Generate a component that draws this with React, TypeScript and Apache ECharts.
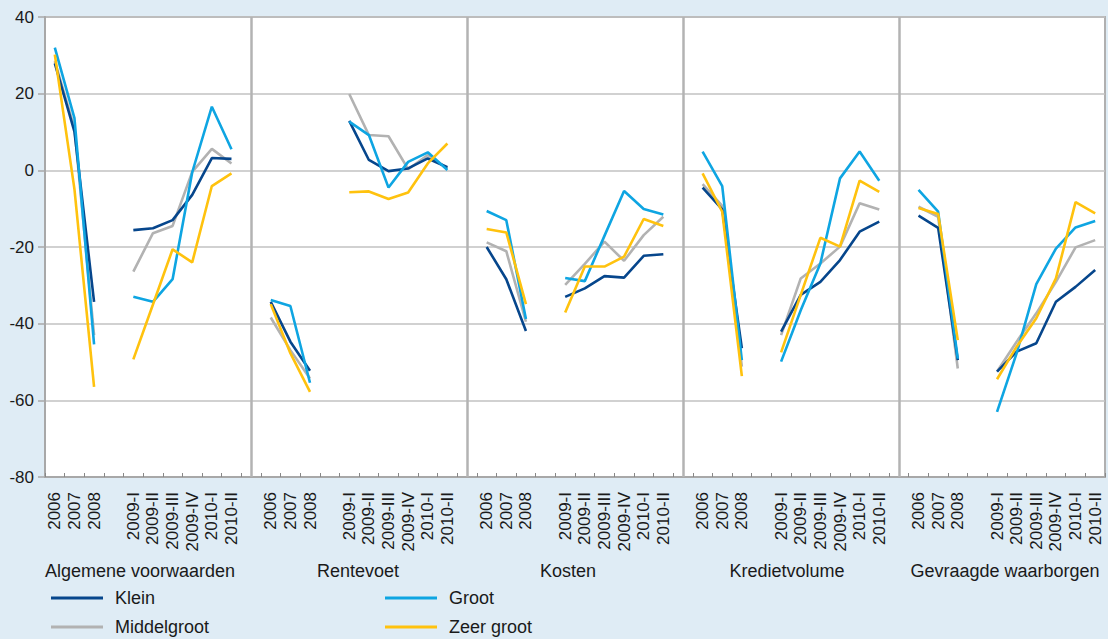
import React, { useEffect, useRef } from "react";
import * as echarts from "echarts";

const panels = ["Algemene voorwaarden", "Rentevoet", "Kosten", "Kredietvolume", "Gevraagde waarborgen"];
const periods = ["2006", "2007", "2008", "", "2009-I", "2009-II", "2009-III", "2009-IV", "2010-I", "2010-II"];
const yTicks = [-80, -60, -40, -20, 0, 20, 40];

// values per panel, aligned with periods (null = gap slot)
const klein = [
  [27.9, 10.1, -34.3, null, -15.6, -15.1, -13.0, -6.4, 3.2, 3.0],
  [-34.3, -44.7, -52.3, null, 12.9, 2.7, -0.2, 0.5, 3.1, 0.8],
  [-20.0, -28.4, -41.9, null, -33.0, -30.8, -27.6, -28.0, -22.3, -21.9],
  [-4.5, -10.2, -46.4, null, -42.1, -32.5, -29.1, -23.4, -16.0, -13.4],
  [-11.8, -15.0, -49.5, null, -52.5, -47.3, -45.1, -34.3, -30.4, -26.0],
];
const middelgroot = [
  [28.5, 11.0, -43.0, null, -26.4, -16.4, -14.5, -0.4, 5.6, 1.8],
  [-38.4, -46.9, -54.3, null, 19.9, 9.2, 8.9, 0.3, 4.0, 0.5],
  [-18.8, -21.1, -39.5, null, -29.9, -24.4, -18.6, -23.6, -16.9, -12.1],
  [-3.6, -9.3, -51.2, null, -43.0, -28.2, -24.3, -19.9, -8.6, -10.2],
  [-9.5, -12.1, -51.7, null, -52.5, -44.7, -37.3, -29.1, -20.1, -18.2],
];
const groot = [
  [32.0, 13.6, -45.4, null, -33.0, -34.3, -28.4, -0.5, 16.6, 5.5],
  [-33.8, -35.4, -55.4, null, 12.7, 9.2, -4.5, 2.2, 4.7, 0.1],
  [-10.6, -13.0, -38.8, null, -28.1, -28.9, -17.1, -5.4, -10.1, -11.5],
  [4.9, -4.1, -49.5, null, -49.9, -36.5, -24.3, -2.1, 4.9, -2.7],
  [-5.1, -10.8, -49.1, null, -63.0, -47.7, -29.7, -20.4, -14.9, -13.2],
];
const zeerGroot = [
  [30.2, -4.9, -56.5, null, -49.3, -35.0, -20.6, -24.0, -4.1, -0.8],
  [-34.9, -47.7, -57.8, null, -5.7, -5.5, -7.5, -5.8, 1.8, 7.0],
  [-15.3, -16.2, -34.9, null, -37.1, -25.1, -25.1, -22.5, -12.7, -14.5],
  [-0.8, -10.8, -53.7, null, -47.5, -32.5, -17.6, -19.9, -2.7, -5.6],
  [-9.8, -11.4, -44.3, null, -54.5, -46.0, -38.6, -28.2, -8.3, -11.2],
];

const seriesDefs = [
  { name: "Middelgroot", values: middelgroot, color: "#b2b2b2" },
  { name: "Klein", values: klein, color: "#06468c" },
  { name: "Groot", values: groot, color: "#0ea5e2" },
  { name: "Zeer groot", values: zeerGroot, color: "#ffc20e" },
];

// build the flat category axis: each panel's periods, then a separator slot
const categories: string[] = [];
const separators: string[] = [];
panels.forEach((_, k) => {
  periods.forEach((p, i) => categories.push(`${k}|${i}|${p}`));
  if (k < panels.length - 1) {
    const s = `sep${k}|x|`;
    categories.push(s);
    separators.push(s);
  }
});

function flatten(v: (number | null)[][]) {
  const out: (number | null)[] = [];
  v.forEach((arr, k) => {
    arr.forEach((x) => out.push(x));
    if (k < v.length - 1) out.push(null);
  });
  return out;
}

const titleX = [140, 358, 568, 787, 1005];
const FONT = "'Liberation Sans', Arial, sans-serif";

export default function App() {
  const ref = useRef<HTMLDivElement>(null);
  useEffect(() => {
    if (!ref.current) return;
    const chart = echarts.init(ref.current, undefined, { renderer: "svg" });
    const series: any[] = seriesDefs.map((s, idx) => ({
      name: s.name,
      type: "line",
      data: flatten(s.values),
      color: s.color,
      symbol: "none",
      showSymbol: false,
      connectNulls: false,
      lineStyle: { width: 2.6, color: s.color },
      z: 3 + idx,
      ...(idx === 0
        ? {
            markLine: {
              silent: true,
              symbol: "none",
              label: { show: false },
              lineStyle: { color: "#b3b3b3", width: 2.5, type: "solid" },
              data: separators.map((s2) => ({ xAxis: s2 })),
              z: 1,
            },
          }
        : {}),
    }));
    const legendBase = {
      orient: "vertical",
      top: 589,
      padding: 0,
      icon: "rect",
      itemWidth: 52,
      itemHeight: 3,
      itemGap: 11,
      textStyle: { fontSize: 18, color: "#1a1a1a", fontFamily: FONT, padding: [0, 0, 0, 7] },
    };
    chart.setOption({
      animation: false,
      backgroundColor: "#dfecf5",
      textStyle: { fontFamily: FONT },
      grid: {
        left: 45,
        right: 3,
        top: 17,
        bottom: 162,
        show: true,
        backgroundColor: "#ffffff",
        borderColor: "#b0b0b0",
        borderWidth: 2,
      },
      xAxis: {
        type: "category",
        data: categories,
        boundaryGap: true,
        axisLine: { onZero: false, lineStyle: { color: "#a8a8a8", width: 2 } },
        axisTick: { show: true, interval: 0, inside: true, length: 4, lineStyle: { color: "#888", width: 1 } },
        axisLabel: {
          interval: 0,
          rotate: 90,
          margin: 15,
          fontSize: 17,
          color: "#1a1a1a",
          fontFamily: FONT,
          formatter: (v: string) => v.split("|")[2],
        },
        splitLine: { show: false },
      },
      yAxis: {
        type: "value",
        min: yTicks[0],
        max: yTicks[yTicks.length - 1],
        interval: 20,
        axisLine: { show: true, lineStyle: { color: "#a8a8a8", width: 2 } },
        axisTick: { show: true, length: 7, lineStyle: { color: "#a8a8a8", width: 1.5 } },
        axisLabel: { fontSize: 17, color: "#1a1a1a", margin: 11, fontFamily: FONT },
        splitLine: { show: true, lineStyle: { color: "#c2c2c2", width: 1.5 } },
      },
      legend: [
        { ...legendBase, data: ["Klein", "Middelgroot"], left: 51 },
        { ...legendBase, data: ["Groot", "Zeer groot"], left: 385 },
      ],
      graphic: panels.map((p, k) => ({
        type: "text",
        x: titleX[k],
        y: 571,
        style: {
          text: p,
          fontSize: 18,
          fontFamily: FONT,
          fill: "#1a1a1a",
          align: "center",
          verticalAlign: "middle",
          textAlign: "center",
          textVerticalAlign: "middle",
        },
      })),
      series,
    });
    return () => chart.dispose();
  }, []);
  return (
    <div
      ref={ref}
      style={{ position: "fixed", left: 0, top: 0, width: 1108, height: 639 }}
    />
  );
}
